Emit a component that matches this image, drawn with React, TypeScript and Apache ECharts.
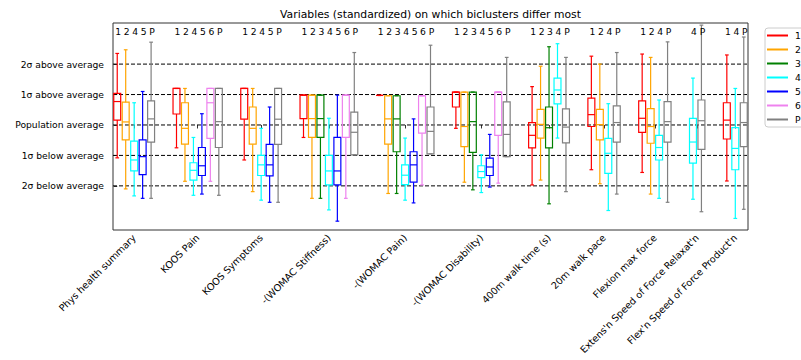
import React, { useEffect, useRef } from "react";
import * as echarts from "echarts";

// ---------- data ----------
const variables = [
  "Phys health summary",
  "KOOS Pain",
  "KOOS Symptoms",
  "-(WOMAC Stiffness)",
  "-(WOMAC Pain)",
  "-(WOMAC Disability)",
  "400m walk time (s)",
  "20m walk pace",
  "Flexion max force",
  "Extens'n Speed of Force Relaxat'n",
  "Flex'n Speed of Force Product'n",
];

const clusters = ["1", "2", "3", "4", "5", "6", "P"];
const clusterColors = ["#ff0000", "#ffa500", "#008000", "#00ffff", "#0000ff", "#ee82ee", "#808080"];

// which biclusters are shown for each variable
const groupMembers = [
  ["1", "2", "4", "5", "P"],
  ["1", "2", "4", "5", "6", "P"],
  ["1", "2", "4", "5", "P"],
  ["1", "2", "3", "4", "5", "6", "P"],
  ["1", "2", "3", "4", "5", "6", "P"],
  ["1", "2", "3", "4", "5", "6", "P"],
  ["1", "2", "3", "4", "P"],
  ["1", "2", "4", "P"],
  ["1", "2", "4", "P"],
  ["4", "P"],
  ["1", "4", "P"],
];

// [low whisker, Q1, median, Q3, high whisker] per member, in member order
const physHealth = [[-1.08, 0.16, 0.77, 1.04, 2.35], [-2.1, -0.49, 0.1, 0.75, 2.47], [-2.33, -1.51, -1.15, -0.53, 0.73], [-2.41, -1.63, -1.04, -0.49, 1.1], [-2.41, -0.56, 0.2, 0.79, 2.72]];
const koosPain = [[-0.75, 0.36, 1.2, 1.2, 1.2], [-1.85, -0.63, -0.11, 0.73, 1.2], [-2.31, -1.81, -1.49, -1.24, -0.41], [-2.27, -1.66, -1.34, -0.74, 0.37], [-1.85, -0.44, 0.73, 1.2, 1.2], [-2.31, -0.74, 0.11, 1.2, 1.2]];
const koosSymptoms = [[-1.15, 0.19, 1.2, 1.2, 1.2], [-2.19, -0.63, -0.11, 0.59, 1.2], [-2.47, -1.66, -1.31, -1.0, -0.11], [-2.54, -1.67, -1.31, -0.64, 0.59], [-2.54, -0.64, 0.19, 1.2, 1.2]];
const womacStiffness = [[-0.41, 0.21, 0.98, 0.98, 0.98], [-2.41, -0.41, 0.21, 0.98, 0.98], [-2.41, -0.41, 0.21, 0.98, 0.98], [-2.79, -1.97, -1.51, -1.0, 0.22], [-3.16, -1.97, -1.51, -0.41, 0.98], [-2.41, -0.41, 0.98, 0.98, 0.98], [-0.98, -0.98, -0.24, 0.42, 2.38]];
const womacPain = [[0.97, 0.97, 0.97, 0.97, 0.97], [-2.25, -0.63, 0.2, 0.96, 0.96], [-2.25, -0.88, 0.2, 0.96, 0.96], [-2.47, -1.96, -1.65, -1.31, -0.43], [-2.56, -1.88, -1.31, -0.88, 0.2], [-1.97, -0.27, 0.96, 0.96, 0.96], [-0.95, -0.95, -0.21, 0.59, 2.62]];
const womacDisability = [[-0.11, 0.59, 1.08, 1.08, 1.08], [-1.88, -0.71, -0.05, 1.08, 1.08], [-2.13, -0.9, 0.11, 1.08, 1.08], [-2.22, -1.73, -1.53, -1.34, -0.98], [-2.04, -1.66, -1.38, -1.09, -0.31], [-1.91, -0.34, 1.08, 1.08, 1.08], [-1.04, -1.04, -0.31, 0.76, 2.22]];
const walk400 = [[-1.97, -0.75, -0.34, 0.08, 1.26], [-1.81, -0.43, 0.02, 0.51, 1.93], [-2.59, -0.75, -0.09, 0.59, 2.57], [-0.43, 0.69, 1.15, 1.54, 2.67], [-2.19, -0.59, -0.07, 0.53, 2.22]];
const walk20 = [[-1.47, -0.05, 0.34, 0.88, 2.26], [-1.93, -0.49, 0.01, 0.51, 2.0], [-2.81, -1.59, -0.93, -0.44, 0.7], [-2.27, -0.56, 0.08, 0.63, 2.38]];
const flexMax = [[-1.56, -0.24, 0.22, 0.79, 2.33], [-2.27, -0.6, -0.05, 0.54, 2.22], [-2.41, -1.15, -0.74, -0.34, 0.82], [-2.54, -0.56, 0.11, 0.77, 2.73]];
const extRelax = [[-2.44, -1.25, -0.56, 0.22, 1.54], [-2.85, -0.8, 0.14, 0.82, 3.28]];
const flexProd = [[-1.84, -0.46, 0.16, 0.73, 2.3], [-3.07, -1.47, -0.77, -0.09, 1.2], [-2.77, -0.71, 0.08, 0.73, 2.89]];

const variableStats = [physHealth, koosPain, koosSymptoms, womacStiffness, womacPain, womacDisability, walk400, walk20, flexMax, extRelax, flexProd];

const yTickValues = [-2, -1, 0, 1, 2];
const yTickLabels = ["2σ below average", "1σ below average", "Population average", "1σ above average", "2σ above average"];

const TITLE = "Variables (standardized) on which biclusters differ most";

// ---------- layout helpers ----------
const GAP = 2; // empty slots between groups
const BOX_W = 0.82;
const CAP_W = 0.44;
const FONT = "DejaVu Sans";

const groupStarts: number[] = [];
{
  let s = 0;
  groupMembers.forEach((m) => {
    groupStarts.push(s);
    s += m.length + GAP;
  });
}
const groupCenters = groupMembers.map((m, i) => groupStarts[i] + (m.length - 1) / 2);
const lastPos = groupStarts[groupStarts.length - 1] + groupMembers[groupMembers.length - 1].length - 1;

export default function App() {
  const ref = useRef<HTMLDivElement>(null);

  useEffect(() => {
    document.body.style.margin = "0";
    if (!ref.current) return;
    const chart = echarts.init(ref.current, undefined, { renderer: "svg" });

    // data per cluster
    const seriesData: Record<string, any[]> = {};
    clusters.forEach((c) => (seriesData[c] = []));
    groupMembers.forEach((members, g) => {
      members.forEach((c, k) => {
        const s = variableStats[g][k];
        seriesData[c].push([groupStarts[g] + k, s[0], s[1], s[2], s[3], s[4], c]);
      });
    });

    const boxSeries = clusters.map((c, ci) => ({
      type: "custom",
      name: c,
      coordinateSystem: "cartesian2d",
      itemStyle: { color: clusterColors[ci] },
      encode: { x: 0, y: [1, 2, 3, 4, 5] },
      data: seriesData[c],
      z: 3,
      clip: false,
      renderItem: (params: any, api: any) => {
        const x = api.value(0);
        const lo = api.value(1);
        const q1 = api.value(2);
        const med = api.value(3);
        const q3 = api.value(4);
        const hi = api.value(5);
        const px = api.coord([x, 0])[0];
        const yLo = api.coord([x, lo])[1];
        const yQ1 = api.coord([x, q1])[1];
        const yMed = api.coord([x, med])[1];
        const yQ3 = api.coord([x, q3])[1];
        const yHi = api.coord([x, hi])[1];
        const hw = api.size([BOX_W, 0])[0] / 2;
        const cw = api.size([CAP_W, 0])[0] / 2;
        const col = clusterColors[ci];
        const ls = { stroke: col, lineWidth: 1.2, fill: "none" };
        return {
          type: "group",
          children: [
            { type: "line", shape: { x1: px, y1: yQ3, x2: px, y2: yHi }, style: ls },
            { type: "line", shape: { x1: px, y1: yQ1, x2: px, y2: yLo }, style: ls },
            { type: "line", shape: { x1: px - cw, y1: yHi, x2: px + cw, y2: yHi }, style: ls },
            { type: "line", shape: { x1: px - cw, y1: yLo, x2: px + cw, y2: yLo }, style: ls },
            { type: "rect", shape: { x: px - hw, y: yQ3, width: hw * 2, height: yQ1 - yQ3 }, style: ls },
            { type: "line", shape: { x1: px - hw, y1: yMed, x2: px + hw, y2: yMed }, style: ls },
            {
              type: "text",
              x: px + 1,
              y: params.coordSys.y + 8,
              style: {
                text: c,
                fill: "#000",
                font: `9.2px "${FONT}"`,
                align: "center",
                verticalAlign: "middle",
              },
            },
          ],
        };
      },
    }));

    const refSeries = {
      type: "custom",
      name: "refLines",
      coordinateSystem: "cartesian2d",
      data: yTickValues.map((v) => [0, v]),
      z: 2,
      silent: true,
      renderItem: (params: any, api: any) => {
        const y = api.coord([0, api.value(1)])[1];
        const cs = params.coordSys;
        return {
          type: "line",
          shape: { x1: cs.x, y1: y, x2: cs.x + cs.width, y2: y },
          style: { stroke: "#000", lineWidth: 1, lineDash: [4, 2] },
        };
      },
    };

    const option: any = {
      animation: false,
      backgroundColor: "#fff",
      textStyle: { fontFamily: FONT },
      color: clusterColors,
      grid: {
        left: 113,
        right: 53,
        top: 23,
        bottom: 130,
        show: true,
        borderColor: "#333",
        borderWidth: 1,
        backgroundColor: "transparent",
      },
      graphic: [
        {
          type: "text",
          x: 430.5,
          y: 14,
          style: {
            text: TITLE,
            fill: "#000",
            font: `10.8px "${FONT}"`,
            align: "center",
            verticalAlign: "middle",
          },
        },
      ],
      legend: {
        orient: "vertical",
        left: 765,
        top: 28,
        itemWidth: 21,
        itemHeight: 2,
        itemGap: 5,
        padding: [3, 14, 3, 2],
        borderColor: "#ccc",
        borderWidth: 1,
        borderRadius: 3,
        backgroundColor: "#fff",
        textStyle: { fontFamily: FONT, fontSize: 9.2, color: "#000", padding: [0, 0, 0, 2] },
        data: clusters.map((c, i) => ({ name: c, icon: "rect", itemStyle: { color: clusterColors[i] } })),
      },
      xAxis: {
        type: "value",
        min: -0.5,
        max: lastPos + 0.5,
        splitLine: { show: false },
        axisLine: { show: false },
        axisTick: {
          show: true,
          length: 3.5,
          customValues: groupCenters,
          lineStyle: { color: "#333", width: 1 },
        },
        axisLabel: {
          show: true,
          rotate: 45,
          margin: 6,
          customValues: groupCenters,
          fontFamily: FONT,
          fontSize: 9.6,
          color: "#000",
          formatter: (v: number) => {
            const idx = groupCenters.findIndex((c) => Math.abs(c - v) < 1e-6);
            return idx >= 0 ? variables[idx] : "";
          },
        },
      },
      yAxis: {
        type: "value",
        min: -3.45,
        max: 3.35,
        splitLine: { show: false },
        axisLine: { show: false },
        axisTick: {
          show: true,
          length: 3.5,
          customValues: yTickValues,
          lineStyle: { color: "#333", width: 1 },
        },
        axisLabel: {
          show: true,
          margin: 9,
          customValues: yTickValues,
          fontFamily: FONT,
          fontSize: 9.2,
          color: "#000",
          formatter: (v: number) => {
            const idx = yTickValues.findIndex((t) => Math.abs(t - v) < 1e-6);
            return idx >= 0 ? yTickLabels[idx] : "";
          },
        },
      },
      series: [refSeries, ...boxSeries],
    };

    chart.setOption(option);
    return () => chart.dispose();
  }, []);

  return (
    <div
      ref={ref}
      style={{ position: "absolute", left: 0, top: 0, width: 801, height: 360 }}
    />
  );
}
